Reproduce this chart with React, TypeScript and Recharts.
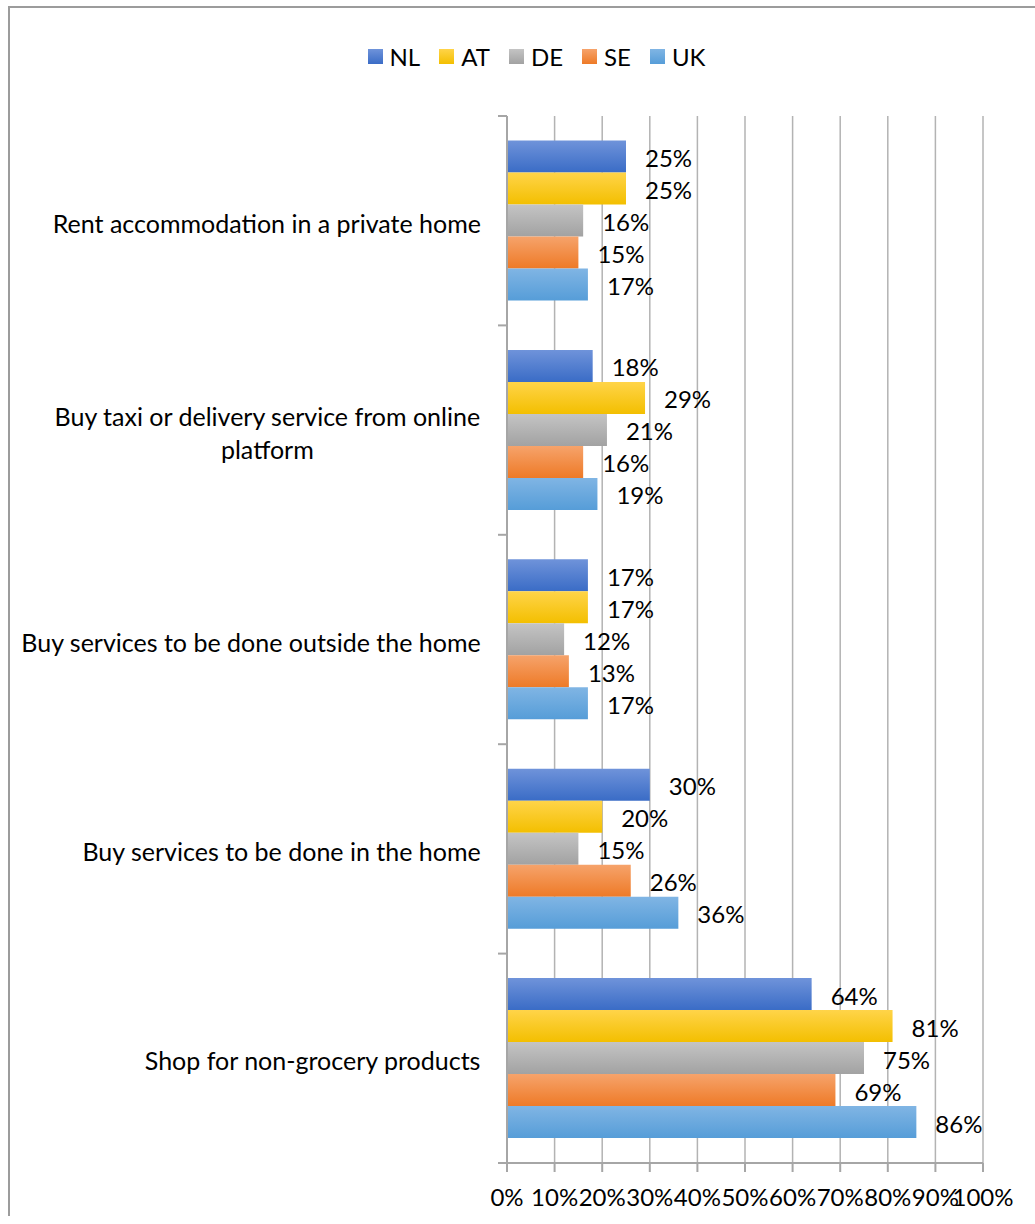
import React from "react";
import {
  BarChart,
  Bar,
  XAxis,
  YAxis,
  CartesianGrid,
  Legend,
  LabelList,
} from "recharts";

const categories = [
  ["Rent accommodation in a private home"],
  ["Buy taxi or delivery service from online", "platform"],
  ["Buy services to be done outside the home"],
  ["Buy services to be done in the home"],
  ["Shop for non-grocery products"],
];
const nl = [25, 18, 17, 30, 64];
const at = [25, 29, 17, 20, 81];
const de = [16, 21, 12, 15, 75];
const se = [15, 16, 13, 26, 69];
const uk = [17, 19, 17, 36, 86];
const xTicks = [0, 10, 20, 30, 40, 50, 60, 70, 80, 90, 100];

const series = [
  { key: "NL", values: nl, top: "#6f93da", bottom: "#3a6cc6" },
  { key: "AT", values: at, top: "#ffd449", bottom: "#f3bf00" },
  { key: "DE", values: de, top: "#c4c4c4", bottom: "#a2a2a2" },
  { key: "SE", values: se, top: "#f6a36b", bottom: "#ee7a27" },
  { key: "UK", values: uk, top: "#80b5e4", bottom: "#569dd8" },
];

const data = categories.map((lines, i) => {
  const row: any = { name: lines.join(" "), lines };
  series.forEach((s) => (row[s.key] = s.values[i]));
  return row;
});

const FONT = "Lato, 'Open Sans', sans-serif";
const FS = 24;
const CAT_FS = 25;
const W = 1025;
const H = 1208;
const MARGIN = { top: 78, right: 52, bottom: 0, left: 0 };
const X_HEIGHT = 53;
const PLOT_H = 1047;
const STEP = PLOT_H / categories.length;

let ctx: CanvasRenderingContext2D | null = null;
const measure = (s: string) => {
  if (!ctx) ctx = document.createElement("canvas").getContext("2d");
  if (!ctx) return s.length * 11;
  ctx.font = `${CAT_FS}px ${FONT}`;
  return ctx.measureText(s).width;
};

const CategoryTick = (props: any) => {
  const { x, y, payload, index } = props;
  const row = data.find((d) => d.name === payload.value);
  const lines: string[] = row ? row.lines : [payload.value];
  const widths = lines.map(measure);
  const maxW = Math.max(...widths);
  const right = x - 26;
  const lh = 33;
  const y0 = y + 2 - ((lines.length - 1) * lh) / 2;
  return (
    <g>
      <line x1={x - 9} x2={x} y1={y - STEP / 2} y2={y - STEP / 2} stroke="#a6a6a6" strokeWidth={2} />
      {index === categories.length - 1 && (
        <line x1={x - 9} x2={x} y1={y + STEP / 2} y2={y + STEP / 2} stroke="#a6a6a6" strokeWidth={2} />
      )}
      {lines.map((l, i) => (
        <text
          key={i}
          x={right - maxW / 2}
          y={y0 + i * lh}
          textAnchor="middle"
          dominantBaseline="central"
          fontSize={CAT_FS}
          fontFamily={FONT}
          fill="#000"
        >
          {l}
        </text>
      ))}
    </g>
  );
};

const LegendContent = () => (
  <div
    style={{
      display: "flex",
      justifyContent: "center",
      alignItems: "center",
      gap: 19,
      fontFamily: FONT,
      fontSize: FS,
      height: 30,
    }}
  >
    {series.map((s) => (
      <div key={s.key} style={{ display: "flex", alignItems: "center" }}>
        <div
          style={{
            width: 15,
            height: 15,
            background: `linear-gradient(${s.top}, ${s.bottom})`,
            marginRight: 7,
          }}
        />
        <span>{s.key}</span>
      </div>
    ))}
  </div>
);

export default function App() {
  return (
    <div
      style={{
        position: "absolute",
        top: 6,
        left: 8,
        width: W,
        height: H,
        borderTop: "2px solid #9c9c9c",
        borderLeft: "2px solid #9c9c9c",
        background: "#fff",
      }}
    >
      <BarChart
        width={W}
        height={H}
        data={data}
        layout="vertical"
        margin={MARGIN}
        barCategoryGap="11.7%"
        barGap={0}
      >
        <defs>
          {series.map((s) => (
            <linearGradient key={s.key} id={`g-${s.key}`} x1="0" y1="0" x2="0" y2="1">
              <stop offset="0%" stopColor={s.top} />
              <stop offset="100%" stopColor={s.bottom} />
            </linearGradient>
          ))}
        </defs>
        <CartesianGrid horizontal={false} stroke="#b3b3b3" strokeWidth={1.5} />
        <XAxis
          type="number"
          domain={[0, 100]}
          ticks={xTicks}
          interval={0}
          height={X_HEIGHT}
          tickFormatter={(v) => `${v}%`}
          tickSize={9}
          tickMargin={17}
          stroke="#a6a6a6"
          strokeWidth={2}
          tick={{ fill: "#000", fontSize: FS, fontFamily: FONT }}
        />
        <YAxis
          type="category"
          dataKey="name"
          width={497}
          tickLine={false}
          tickSize={0}
          tickMargin={0}
          stroke="#a6a6a6"
          strokeWidth={2}
          interval={0}
          tick={<CategoryTick />}
        />
        <Legend
          verticalAlign="top"
          content={<LegendContent />}
          wrapperStyle={{ top: 33, left: 14, width: W, height: 30 }}
        />
        {series.map((s) => (
          <Bar
            key={s.key}
            dataKey={s.key}
            fill={`url(#g-${s.key})`}
            isAnimationActive={false}
          >
            <LabelList
              dataKey={s.key}
              position="right"
              offset={19}
              formatter={(v: any) => `${v}%`}
              style={{ fill: "#000", fontSize: FS, fontFamily: FONT }}
              dy={2}
            />
          </Bar>
        ))}
      </BarChart>
    </div>
  );
}
